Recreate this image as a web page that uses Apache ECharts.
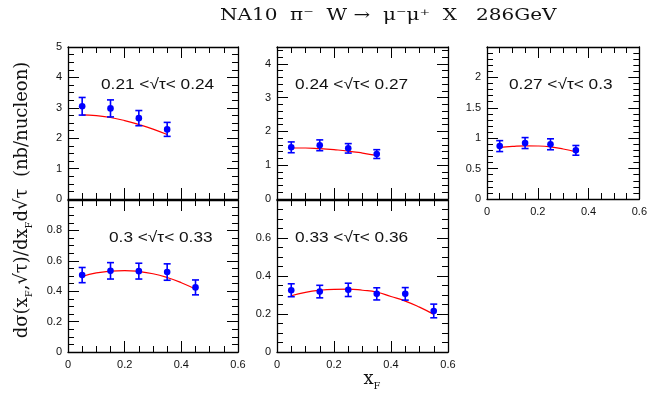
<!DOCTYPE html>
<html><head><meta charset="utf-8">
<script src="https://cdn.jsdelivr.net/npm/echarts@6/dist/echarts.min.js"></script>
<style>html,body{margin:0;padding:0;background:#fff}#c{width:650px;height:415px}</style>
</head><body><div id="c"></div>
<script>
// ---- data ----
const rangeLabels = ['0.21 <\u221A\u03C4< 0.24', '0.24 <\u221A\u03C4< 0.27', '0.27 <\u221A\u03C4< 0.3', '0.3 <\u221A\u03C4< 0.33', '0.33 <\u221A\u03C4< 0.36'];
const xBins = [0.05, 0.15, 0.25, 0.35, 0.45, 0.55];
const fitX = [0.05, 0.10, 0.15, 0.20, 0.25, 0.30, 0.35, 0.40, 0.45, 0.50, 0.55];
const xTickLabels = ['0', '0.2', '0.4', '0.6'];

const p1Val = [3.05, 2.98, 2.66, 2.29];
const p1Err = [0.29, 0.28, 0.25, 0.23];
const p1Fit = [2.77, 2.74, 2.68, 2.58, 2.45, 2.30, 2.12];

const p2Val = [1.53, 1.59, 1.50, 1.33];
const p2Err = [0.16, 0.16, 0.14, 0.13];
const p2Fit = [1.51, 1.51, 1.49, 1.46, 1.42, 1.36, 1.29];

const p3Val = [0.87, 0.92, 0.90, 0.80];
const p3Err = [0.09, 0.09, 0.09, 0.08];
const p3Fit = [0.85, 0.866, 0.875, 0.872, 0.857, 0.822, 0.775];

const p4Val = [0.506, 0.534, 0.532, 0.526, 0.425];
const p4Err = [0.050, 0.054, 0.052, 0.054, 0.049];
const p4Fit = [0.497, 0.520, 0.532, 0.536, 0.530, 0.515, 0.490, 0.456, 0.414];

const p5Val = [0.325, 0.318, 0.327, 0.306, 0.306, 0.216];
const p5Err = [0.034, 0.033, 0.035, 0.032, 0.033, 0.036];
const p5Fit = [0.296, 0.314, 0.325, 0.330, 0.331, 0.325, 0.315, 0.292, 0.268, 0.236, 0.198];

const yMaxes = [5, 4.5, 2.5, 1, 0.8];
const yIntervals = [1, 1, 0.5, 0.2, 0.2];

// ---- layout ----
const panels = [
  {val:p1Val, err:p1Err, fit:p1Fit, grid:{left:68, top:47, width:170, height:152}, xLab:false, showMax:true, minor:4, lab:[101,85]},
  {val:p2Val, err:p2Err, fit:p2Fit, grid:{left:277, top:47, width:171, height:152}, xLab:false, showMax:false, minor:5, lab:[295,85]},
  {val:p3Val, err:p3Err, fit:p3Fit, grid:{left:487, top:47, width:153, height:152}, xLab:true, showMax:false, minor:5, lab:[509,85]},
  {val:p4Val, err:p4Err, fit:p4Fit, grid:{left:68, top:200, width:170, height:152}, xLab:true, showMax:false, minor:4, lab:[109,238]},
  {val:p5Val, err:p5Err, fit:p5Fit, grid:{left:277, top:200, width:171, height:152}, xLab:true, showMax:false, minor:4, lab:[295,238]}
];

const lineStyle = {color:'#000', width:1.3};
const tickStyle = {color:'#000', width:1};
const labelFont = {color:'#111', fontSize:11, fontFamily:'Liberation Sans'};

const grids = [], xAxes = [], yAxes = [], series = [], graphics = [];

function renderErr(params, api) {
  const x = api.value(0), y = api.value(1), e = api.value(2);
  const lo = api.coord([x, y - e]), hi = api.coord([x, y + e]), c = api.coord([x, y]);
  const w = 3.5;
  const st = {stroke:'#0000ff', lineWidth:1.6, fill:null};
  return {type:'group', children:[
    {type:'line', shape:{x1:lo[0], y1:lo[1], x2:hi[0], y2:hi[1]}, style:st},
    {type:'line', shape:{x1:lo[0]-w, y1:lo[1], x2:lo[0]+w, y2:lo[1]}, style:st},
    {type:'line', shape:{x1:hi[0]-w, y1:hi[1], x2:hi[0]+w, y2:hi[1]}, style:st},
    {type:'circle', shape:{cx:c[0], cy:c[1], r:3.3}, style:{fill:'#0000ff', stroke:null}}
  ]};
}

panels.forEach((p, i) => {
  grids.push(Object.assign({containLabel:false}, p.grid));
  const xBase = {type:'value', gridIndex:i, min:0, max:0.6, interval:0.2,
    axisLine:{show:true, onZero:false, lineStyle}, splitLine:{show:false},
    axisTick:{show:true, inside:true, length:11, lineStyle:tickStyle},
    minorTick:{show:true, splitNumber:4, length:6, lineStyle:tickStyle}};
  xAxes.push(Object.assign({}, xBase, {position:'bottom',
    axisLabel:{show:p.xLab, margin:7, ...labelFont, formatter:(v)=>{const k=Math.round(v/0.2);return xTickLabels[k]!==undefined?xTickLabels[k]:'';}}}));
  xAxes.push(Object.assign({}, xBase, {position:'top', axisLabel:{show:false}}));
  const yBase = {type:'value', gridIndex:i, min:0, max:yMaxes[i], interval:yIntervals[i],
    axisLine:{show:true, onZero:false, lineStyle}, splitLine:{show:false},
    axisTick:{show:true, inside:true, length:11, lineStyle:tickStyle},
    minorTick:{show:true, splitNumber:p.minor, length:6, lineStyle:tickStyle}};
  yAxes.push(Object.assign({}, yBase, {position:'left',
    axisLabel:{show:true, margin:6, showMaxLabel:p.showMax, ...labelFont}}));
  yAxes.push(Object.assign({}, yBase, {position:'right', axisLabel:{show:false}}));

  series.push({type:'line', xAxisIndex:2*i, yAxisIndex:2*i, smooth:true, symbol:'none',
    lineStyle:{color:'#ff0000', width:1.2}, z:2,
    data:p.fit.map((v, k) => [fitX[k], v])});
  series.push({type:'custom', xAxisIndex:2*i, yAxisIndex:2*i, renderItem:renderErr, z:3,
    encode:{x:0, y:1},
    data:p.val.map((v, k) => [xBins[k], v, p.err[k]])});
  graphics.push({type:'text', x:p.lab[0], y:p.lab[1], scaleX:1.15, z:10,
    style:{text:rangeLabels[i], fill:'#111', font:'15px "Liberation Sans"', textVerticalAlign:'middle'}});
});

graphics.push({type:'text', x:220, y:16, scaleX:1.25, z:10,
  style:{text:'NA10  \u03C0\u207B  W \u2192  \u03BC\u207B\u03BC\u207A  X   286GeV', fill:'#111', font:'16px "DejaVu Serif"', textVerticalAlign:'middle'}});

graphics.push({type:'text', x:22, y:200, rotation:Math.PI/2, z:10,
  style:{text:'{m|d\u03C3(x}{s|F}{m|,\u221A\u03C4)/dx}{s|F}{m|d\u221A\u03C4  (nb/nucleon)}',
    textAlign:'center', textVerticalAlign:'middle',
    rich:{m:{fontSize:18, fontFamily:'DejaVu Serif', fill:'#111', lineHeight:24, verticalAlign:'middle'},
          s:{fontSize:10, fontFamily:'DejaVu Serif', fill:'#111', lineHeight:14, verticalAlign:'bottom'}}}});

graphics.push({type:'text', x:372, y:379, z:10,
  style:{text:'{m|x}{s|F}', textAlign:'center', textVerticalAlign:'middle',
    rich:{m:{fontSize:18, fontFamily:'DejaVu Serif', fill:'#111', lineHeight:24, verticalAlign:'middle'},
          s:{fontSize:10, fontFamily:'DejaVu Serif', fill:'#111', lineHeight:14, verticalAlign:'bottom'}}}});

const chart = echarts.init(document.getElementById('c'), null, {renderer:'canvas'});
chart.setOption({
  animation:false, backgroundColor:'#fff',
  grid:grids, xAxis:xAxes, yAxis:yAxes, series:series, graphic:graphics
});
</script></body></html>
